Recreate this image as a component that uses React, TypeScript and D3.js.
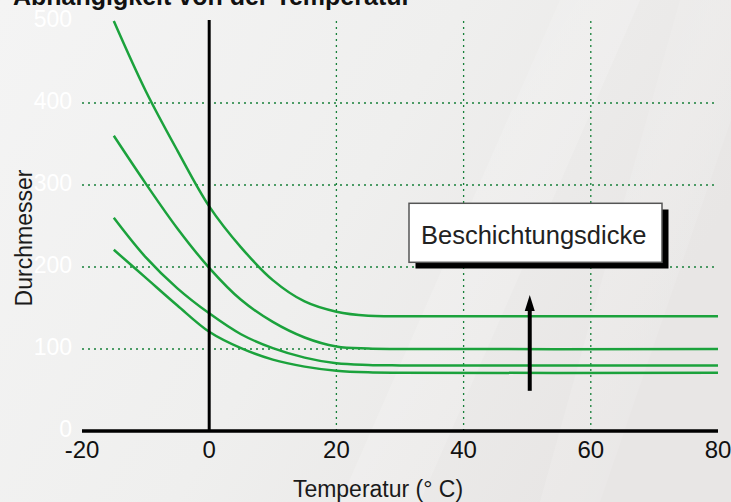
import React from "react";
import * as d3 from "d3";

const temps = [-15, -10, -5, 0, 5, 10, 15, 20, 25, 30, 80];
const series1 = [500, 415, 342, 274, 224, 184, 158, 145.5, 140.5, 140, 140];
const series2 = [360, 302, 247, 199, 160, 133, 114, 103, 100.5, 100, 100];
const series3 = [260, 212, 174, 143.5, 118, 101, 89.5, 82.5, 80.5, 80, 80];
const series4 = [221, 187, 153, 121, 101, 87, 78.5, 73.5, 71.5, 71, 71];
const allSeries = [series1, series2, series3, series4];

const xTicks = [-20, 0, 20, 40, 60, 80];
const yTicks = [0, 100, 200, 300, 400, 500];
const gridY = [100, 200, 300, 400];
const gridX = [20, 40, 60];

const arrowX = 50.4;
const arrowFrom = 49;
const arrowTo = 166;

const title = "Abhängigkeit von der Temperatur";
const xTitle = "Temperatur (° C)";
const yTitle = "Durchmesser";
const legendLabel = "Beschichtungsdicke";

const W = 731;
const H = 502;
const FONT = "'Liberation Sans', Arial, Helvetica, sans-serif";
const GREEN = "#1ba23c";
const GRID = "#17803a";

export default function App() {
  const x = d3.scaleLinear().domain([-20, 80]).range([82, 718]);
  const y = d3.scaleLinear().domain([0, 500]).range([431, 21]);

  const line = d3
    .line<number>()
    .x((_, i) => x(temps[i]))
    .y((d) => y(d))
    .curve(d3.curveCatmullRom.alpha(0.5));

  const ax = x(arrowX);
  const tipY = y(arrowTo);
  const headH = 16;
  const headW = 10;

  return (
    <svg
      width={W}
      height={H}
      style={{ position: "absolute", left: 0, top: 0, display: "block" }}
    >
      <defs>
        <linearGradient id="bg" x1="0" y1="0" x2="1" y2="0.4">
          <stop offset="0" stopColor="#f4f4f4" />
          <stop offset="0.55" stopColor="#efefee" />
          <stop offset="1" stopColor="#e8e6e5" />
        </linearGradient>
        <linearGradient id="streak" x1="0" y1="0" x2="1" y2="1">
          <stop offset="0" stopColor="#ffffff" stopOpacity="0" />
          <stop offset="0.5" stopColor="#ffffff" stopOpacity="0.35" />
          <stop offset="1" stopColor="#ffffff" stopOpacity="0" />
        </linearGradient>
      </defs>
      <rect x={0} y={0} width={W} height={H} fill="url(#bg)" />
      <polygon points="560,0 640,0 420,502 340,502" fill="url(#streak)" opacity={0.5} />
      <polygon points="680,0 731,0 731,120 600,502 540,502" fill="url(#streak)" opacity={0.4} />

      {/* title */}
      <text x={13} y={5} fontFamily={FONT} fontWeight="bold" fontSize={25} fill="#111">
        {title}
      </text>

      {/* grid */}
      {gridY.map((v) => (
        <line
          key={"gy" + v}
          x1={x(-20)}
          x2={x(80)}
          y1={y(v)}
          y2={y(v)}
          stroke={GRID}
          strokeWidth={1.3}
          strokeDasharray="2,4"
        />
      ))}
      {gridX.map((v) => (
        <line
          key={"gx" + v}
          x1={x(v)}
          x2={x(v)}
          y1={y(500)}
          y2={y(0)}
          stroke={GRID}
          strokeWidth={1.3}
          strokeDasharray="2,4"
        />
      ))}

      {/* y labels */}
      {yTicks.map((v) => (
        <text
          key={"yl" + v}
          x={72}
          y={y(v) + 5.5}
          textAnchor="end"
          fontFamily={FONT}
          fontSize={23}
          fill="#ffffff"
        >
          {v}
        </text>
      ))}

      {/* curves */}
      {allSeries.map((s, i) => (
        <path key={"s" + i} d={line(s) || ""} fill="none" stroke={GREEN} strokeWidth={2.5} />
      ))}

      {/* axes */}
      <line x1={x(0)} x2={x(0)} y1={y(500) - 1} y2={y(0)} stroke="#000" strokeWidth={3} />
      <line x1={x(-20)} x2={x(80)} y1={y(0)} y2={y(0)} stroke="#000" strokeWidth={3.5} />

      {xTicks.map((v) => (
        <text
          key={"xl" + v}
          x={x(v)}
          y={458}
          textAnchor="middle"
          fontFamily={FONT}
          fontSize={24}
          fill="#111"
        >
          {v}
        </text>
      ))}

      <text x={378} y={497} textAnchor="middle" fontFamily={FONT} fontSize={23} fill="#1a1a1a">
        {xTitle}
      </text>
      <text
        transform={`translate(32,238) rotate(-90)`}
        textAnchor="middle"
        fontFamily={FONT}
        fontSize={23}
        fill="#1a1a1a"
      >
        {yTitle}
      </text>

      {/* arrow */}
      <line x1={ax} x2={ax} y1={y(arrowFrom)} y2={tipY + headH - 1} stroke="#000" strokeWidth={4} />
      <path
        d={`M${ax},${tipY} L${ax + headW / 2},${tipY + headH} L${ax - headW / 2},${tipY + headH} Z`}
        fill="#000"
      />

      {/* legend box */}
      <rect x={415.5} y={209.5} width={253} height={59} fill="#000" />
      <rect x={409} y={203.3} width={253} height={59} fill="#fff" stroke="#555" strokeWidth={1.5} />
      <text x={421} y={244} fontFamily={FONT} fontSize={25.5} fill="#222">
        {legendLabel}
      </text>
    </svg>
  );
}
